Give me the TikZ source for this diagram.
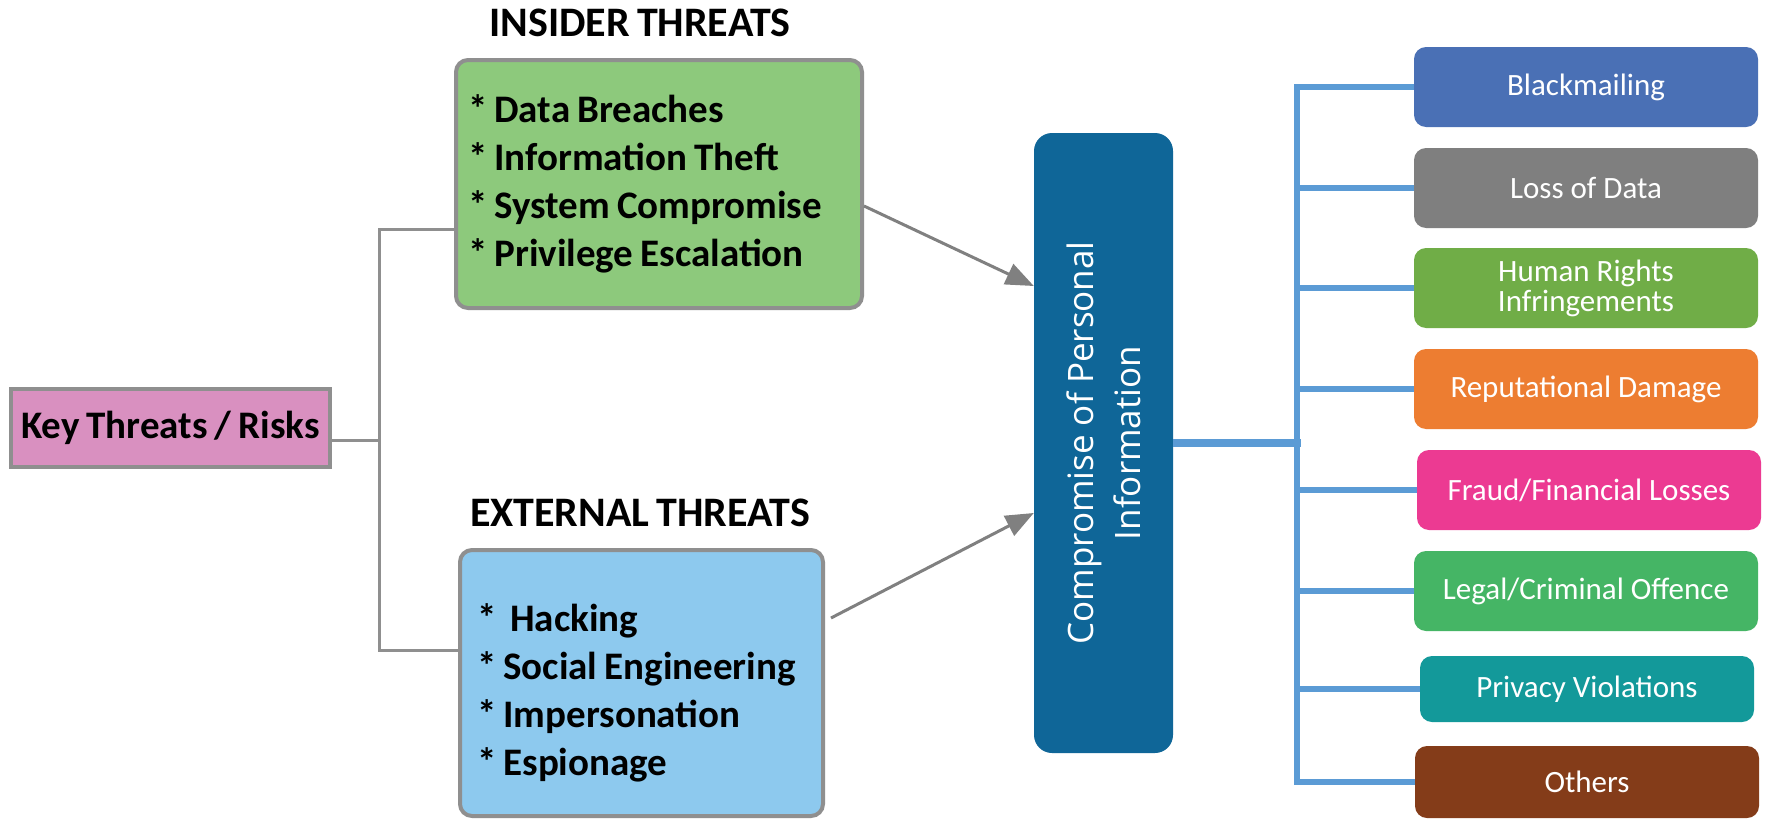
\documentclass[tikz,border=0pt]{standalone}
\usepackage{fontspec}
\setmainfont{Carlito}
\newfontfamily\opensans{Open Sans}
\usepackage{tikz}
\usetikzlibrary{arrows.meta}
\definecolor{insiderbg}{RGB}{141, 201, 124}
\definecolor{externalbg}{RGB}{141, 201, 238}
\definecolor{keybg}{RGB}{217, 144, 192}
\definecolor{boxgray}{RGB}{143, 143, 143}
\definecolor{compbg}{RGB}{15, 102, 152}
\definecolor{spineblue}{RGB}{91, 155, 213}
\definecolor{blackmailc}{RGB}{74, 112, 181}
\definecolor{lossc}{RGB}{127, 127, 127}
\definecolor{humanc}{RGB}{112, 173, 71}
\definecolor{reputc}{RGB}{237, 125, 49}
\definecolor{fraudc}{RGB}{236, 58, 146}
\definecolor{legalc}{RGB}{69, 181, 101}
\definecolor{privacyc}{RGB}{19, 153, 154}
\definecolor{othersc}{RGB}{132, 60, 25}
\newcommand{\tightsp}{\spaceskip=7pt\relax}

\tikzset{
  threatbox/.style={draw=boxgray, line width=4pt, rounded corners=12pt, inner xsep=12pt,
    align=flush left, font=\fontsize{39}{48}\selectfont\bfseries\tightsp},
  heading/.style={font=\fontsize{42}{48}\selectfont\bfseries\tightsp},
  impact/.style={fill=#1, rounded corners=12pt, minimum width=344pt, minimum height=80pt,
    inner ysep=2pt, text=white, align=center, font=\fontsize{31}{30}\selectfont},
  conn/.style={line width=3pt, boxgray},
  branch/.style={line width=6pt, spineblue},
  feed/.style={line width=3pt, gray, -{Triangle[length=28pt, width=22pt]}}
}

\begin{document}
\begin{tikzpicture}[x=1pt, y=-1pt]
    \fill[white] (0,0) rectangle (1767,819);
    \useasboundingbox (0,0) rectangle (1767,819);

    % Root
    \node[draw=boxgray, line width=4pt, fill=keybg, minimum width=319pt, minimum height=78pt,
      font=\fontsize{39}{46}\selectfont\bfseries\tightsp] (key) at (170.5,428) {Key Threats / Risks};

    % Insider threats
    \node[heading] (institle) at (640,23) {INSIDER THREATS};
    \node[threatbox, fill=insiderbg, text width=382pt, minimum height=248pt] (ins) at (659,184)
      {{*} Data Breaches\\ {*} Information Theft\\ {*} System Compromise\\ {*} Privilege Escalation};

    % External threats (text sits a little low in its box)
    \node[heading] (exttitle) at (640,513) {EXTERNAL THREATS};
    \node[threatbox, fill=externalbg, inner xsep=17pt, text width=329pt, minimum height=266pt] (ext) at (641.5,683)
      {\rule{0pt}{47pt}{*}\ \ Hacking\\ {*} Social Engineering\\ {*} Impersonation\\ {*} Espionage};

    % Tree from the root
    \coordinate (hub) at (379,440);
    \draw[conn] ([yshift=-45pt]ins.west) -| (hub) |- ([yshift=33pt]ext.west);
    \draw[conn] ([yshift=-12pt]key.east) -- (hub);

    % Central box
    \node[fill=compbg, rounded corners=18pt, minimum width=139pt, minimum height=620pt] (comp) at (1103.5,443) {};
    \node[rotate=90, text=white, align=center, font=\opensans\fontsize{35}{47}\selectfont] (comptext) at (comp.center)
      {Compromise of Personal\\Information};

    \draw[feed] ([yshift=-22pt]ins.east) -- ([yshift=157pt]comp.west);
    \draw[feed] ([shift={(6pt,65pt)}]ext.east) -- ([yshift=-70pt]comp.west);

    % Consequences
    \node[impact=blackmailc] (blk) at (1586,87) {Blackmailing};
    \node[impact=lossc] (los) at (1586,188) {Loss of Data};
    \node[impact=humanc] (hum) at (1586,288) {Human Rights\\Infringements};
    \node[impact=reputc] (rep) at (1586,389) {Reputational Damage};
    \node[impact=fraudc] (fra) at (1589,490) {Fraud/Financial Losses};
    \node[impact=legalc] (leg) at (1586,591) {Legal/Criminal Offence};
    \node[impact=privacyc, minimum width=334pt, minimum height=66pt] (pri) at (1587,689) {Privacy Violations};
    \node[impact=othersc, minimum height=72pt] (oth) at (1587,782) {Others};

    \coordinate (spine) at (1297,443);
    \draw[branch, line width=8pt] (comp.east) -- ([xshift=4pt]spine);
    \draw[branch] (blk.west) -| (spine) |- (oth.west);
    \draw[branch] (los.west) -- (los.west -| spine);
    \draw[branch] (hum.west) -- (hum.west -| spine);
    \draw[branch] (rep.west) -- (rep.west -| spine);
    \draw[branch] (fra.west) -- (fra.west -| spine);
    \draw[branch] (leg.west) -- (leg.west -| spine);
    \draw[branch] (pri.west) -- (pri.west -| spine);
\end{tikzpicture}
\end{document}
